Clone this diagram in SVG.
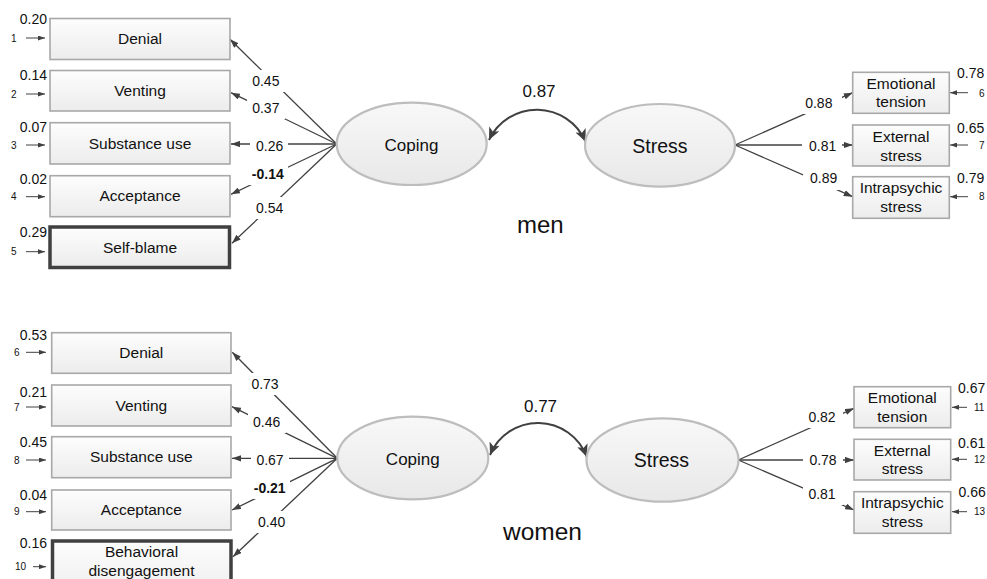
<svg xmlns="http://www.w3.org/2000/svg" width="987" height="579" viewBox="0 0 987 579">
<defs>
<linearGradient id="gb" x1="0" y1="0" x2="0" y2="1"><stop offset="0" stop-color="#fdfdfd"/><stop offset="1" stop-color="#ececec"/></linearGradient>
<linearGradient id="ge" x1="0" y1="0" x2="0" y2="1"><stop offset="0" stop-color="#f8f8f8"/><stop offset="1" stop-color="#e8e8e8"/></linearGradient>
<marker id="ah" viewBox="0 0 10 7" refX="10" refY="3.5" markerWidth="9" markerHeight="6.5" markerUnits="userSpaceOnUse" orient="auto"><path d="M0,0 L10,3.5 L0,7 z" fill="#404040"/></marker>
<marker id="as" viewBox="0 0 10 7" refX="10" refY="3.5" markerWidth="7" markerHeight="5" markerUnits="userSpaceOnUse" orient="auto"><path d="M0,0 L10,3.5 L0,7 z" fill="#404040"/></marker>
<marker id="ac" viewBox="0 0 10 9" refX="10" refY="4.5" markerWidth="13" markerHeight="11" markerUnits="userSpaceOnUse" orient="auto-start-reverse"><path d="M0,0 L10,4.5 L0,9 L2.5,4.5 z" fill="#404040"/></marker>
</defs>
<style>
text{font-family:"Liberation Sans",Arial,sans-serif;fill:#111}
.box{fill:url(#gb);stroke:#a8a8a8;stroke-width:1.6}
.bold{fill:url(#gb);stroke:#404040;stroke-width:3.5}
.ell{fill:url(#ge);stroke:#bdbdbd;stroke-width:2.2}
.bt{font-size:15.5px;text-anchor:middle}
.rt{font-size:15.5px;text-anchor:middle}
.lv{font-size:14px;text-anchor:middle}
.va{font-size:14px;text-anchor:end}
.vr{font-size:14px;text-anchor:start}
.en{font-size:10px}
.ln{stroke:#404040;stroke-width:1.3;fill:none;marker-end:url(#ah)}
.er{stroke:#404040;stroke-width:1;fill:none;marker-end:url(#as)}
.cv{stroke:#404040;stroke-width:2;fill:none;marker-start:url(#ac);marker-end:url(#ac)}
.lb{fill:#fff}
</style>

<g id="connectors">
<line class="ln" x1="336.7" y1="144" x2="230" y2="39.3"/>
<line class="ln" x1="336.7" y1="144" x2="231" y2="92.7"/>
<line class="ln" x1="336.7" y1="144" x2="231" y2="144"/>
<line class="ln" x1="336.7" y1="144" x2="231" y2="194.3"/>
<line class="ln" x1="336.7" y1="144" x2="232" y2="243.3"/>
<line class="ln" x1="735" y1="145" x2="852.7" y2="92.7"/>
<line class="ln" x1="735" y1="145" x2="852.7" y2="145"/>
<line class="ln" x1="735" y1="145" x2="852.7" y2="196.7"/>
<path class="cv" d="M489,140 A53,53 0 0 1 585.5,141.5"/>
<line class="ln" x1="337.3" y1="458.3" x2="232.3" y2="352.3"/>
<line class="ln" x1="337.3" y1="458.3" x2="232" y2="406.7"/>
<line class="ln" x1="337.3" y1="458.3" x2="232" y2="458.3"/>
<line class="ln" x1="337.3" y1="458.3" x2="232" y2="510"/>
<line class="ln" x1="337.3" y1="458.3" x2="233" y2="556.7"/>
<line class="ln" x1="738.3" y1="460" x2="854" y2="408.3"/>
<line class="ln" x1="738.3" y1="460" x2="854" y2="460"/>
<line class="ln" x1="738.3" y1="460" x2="854" y2="510"/>
<path class="cv" d="M490,455 A52,52 0 0 1 586.7,456.7"/>
<line class="er" x1="26" y1="38" x2="45" y2="38"/>
<line class="er" x1="26" y1="94" x2="45" y2="94"/>
<line class="er" x1="26" y1="145" x2="45" y2="145"/>
<line class="er" x1="26" y1="196.7" x2="45" y2="196.7"/>
<line class="er" x1="26" y1="251.7" x2="45" y2="251.7"/>
<line class="er" x1="968" y1="92.7" x2="950" y2="92.7"/>
<line class="er" x1="968" y1="145" x2="950" y2="145"/>
<line class="er" x1="968" y1="196.7" x2="950" y2="196.7"/>
<line class="er" x1="26" y1="352.3" x2="46" y2="352.3"/>
<line class="er" x1="26" y1="407" x2="46" y2="407"/>
<line class="er" x1="26" y1="460" x2="46" y2="460"/>
<line class="er" x1="26" y1="511.7" x2="46" y2="511.7"/>
<line class="er" x1="33" y1="566.7" x2="46" y2="566.7"/>
<line class="er" x1="967" y1="407.3" x2="952" y2="407.3"/>
<line class="er" x1="967" y1="459.3" x2="952" y2="459.3"/>
<line class="er" x1="967" y1="511.7" x2="952" y2="511.7"/>

<rect class="lb" x="247" y="70" width="38" height="22"/><text class="lv" x="265.8" y="86">0.45</text>
<rect class="lb" x="247" y="97" width="38" height="22"/><text class="lv" x="265.8" y="113">0.37</text>
<rect class="lb" x="250" y="135" width="38" height="22"/><text class="lv" x="269.7" y="150.5">0.26</text>
<rect class="lb" x="248" y="163" width="40" height="22"/><text class="lv" x="267.8" y="179" font-weight="bold">-0.14</text>
<rect class="lb" x="250" y="197" width="38" height="22"/><text class="lv" x="269.7" y="213">0.54</text>
<rect class="lb" x="802" y="92" width="40" height="22"/><text class="lv" x="818.8" y="107.5">0.88</text>
<rect class="lb" x="802" y="135" width="40" height="22"/><text class="lv" x="822.7" y="151">0.81</text>
<rect class="lb" x="803" y="168" width="40" height="22"/><text class="lv" x="823.7" y="183">0.89</text>
<rect class="lb" x="246" y="373" width="38" height="22"/><text class="lv" x="265" y="389">0.73</text>
<rect class="lb" x="248" y="411" width="38" height="22"/><text class="lv" x="266.7" y="427">0.46</text>
<rect class="lb" x="251" y="449" width="38" height="22"/><text class="lv" x="270" y="465">0.67</text>
<rect class="lb" x="250" y="477" width="40" height="22"/><text class="lv" x="269.7" y="493" font-weight="bold">-0.21</text>
<rect class="lb" x="253" y="511" width="38" height="22"/><text class="lv" x="271.7" y="526.5">0.40</text>
<rect class="lb" x="803" y="406" width="40" height="22"/><text class="lv" x="822" y="421.5">0.82</text>
<rect class="lb" x="803" y="449" width="40" height="22"/><text class="lv" x="823" y="465">0.78</text>
<rect class="lb" x="803" y="483" width="40" height="22"/><text class="lv" x="822" y="499">0.81</text>
<text x="539" y="96.7" font-size="17px" text-anchor="middle">0.87</text>
<text x="540.5" y="411.7" font-size="17px" text-anchor="middle">0.77</text>
</g>

<g id="m_denial"><rect class="box" x="50" y="18.5" width="180" height="41"/><text class="bt" x="140" y="44">Denial</text><text class="va" x="47" y="24">0.20</text><text class="en" x="11" y="41.5">1</text></g>
<g id="m_venting"><rect class="box" x="50" y="70.5" width="180" height="40.5"/><text class="bt" x="140" y="96">Venting</text><text class="va" x="47" y="80">0.14</text><text class="en" x="11" y="97.5">2</text></g>
<g id="m_substance"><rect class="box" x="50" y="122.7" width="180" height="41.3"/><text class="bt" x="140" y="148.5">Substance use</text><text class="va" x="47" y="132">0.07</text><text class="en" x="11" y="148.5">3</text></g>
<g id="m_acceptance"><rect class="box" x="50" y="175.7" width="180" height="41"/><text class="bt" x="140" y="201">Acceptance</text><text class="va" x="47" y="184">0.02</text><text class="en" x="11" y="200.2">4</text></g>
<g id="m_selfblame"><rect class="bold" x="50" y="227" width="179.5" height="40.5"/><text class="bt" x="140" y="252.5">Self-blame</text><text class="va" x="47" y="237">0.29</text><text class="en" x="11" y="255.2">5</text></g>

<g id="m_coping"><ellipse class="ell" cx="411.7" cy="143.8" rx="75" ry="41.2"/><text x="411.5" y="151" font-size="17px" text-anchor="middle">Coping</text></g>
<g id="m_stress"><ellipse class="ell" cx="660" cy="145.3" rx="75" ry="41.3"/><text x="660" y="152.7" font-size="19.5px" text-anchor="middle">Stress</text></g>

<g id="m_emotional"><rect class="box" x="852.7" y="72.3" width="96.6" height="41"/><text class="rt" x="901" y="89">Emotional</text><text class="rt" x="901" y="107.3">tension</text><text class="vr" x="957" y="78.3">0.78</text><text class="en" x="979" y="96.8">6</text></g>
<g id="m_external"><rect class="box" x="852.7" y="125" width="96.6" height="41"/><text class="rt" x="901" y="141.7">External</text><text class="rt" x="901" y="160.5">stress</text><text class="vr" x="957" y="133">0.65</text><text class="en" x="979" y="148.5">7</text></g>
<g id="m_intrapsychic"><rect class="box" x="852.7" y="176.7" width="96.6" height="41.6"/><text class="rt" x="901" y="193.4">Intrapsychic</text><text class="rt" x="901" y="211.7">stress</text><text class="vr" x="957" y="183.3">0.79</text><text class="en" x="979" y="200.2">8</text></g>

<text id="m_label" x="540.3" y="232.7" font-size="24px" text-anchor="middle">men</text>

<g id="w_denial"><rect class="box" x="51.7" y="332.7" width="179.3" height="40.6"/><text class="bt" x="141.3" y="358">Denial</text><text class="va" x="47" y="340">0.53</text><text class="en" x="14" y="355.8">6</text></g>
<g id="w_venting"><rect class="box" x="51.7" y="385" width="179.3" height="41"/><text class="bt" x="141.3" y="410.5">Venting</text><text class="va" x="47" y="397">0.21</text><text class="en" x="14" y="410.5">7</text></g>
<g id="w_substance"><rect class="box" x="51.7" y="436.7" width="179.3" height="41"/><text class="bt" x="141.3" y="462">Substance use</text><text class="va" x="47" y="447">0.45</text><text class="en" x="14" y="463.5">8</text></g>
<g id="w_acceptance"><rect class="box" x="51.7" y="490" width="179.3" height="40"/><text class="bt" x="141.3" y="515">Acceptance</text><text class="va" x="47" y="500">0.04</text><text class="en" x="14" y="515.2">9</text></g>
<g id="w_behavioral"><rect class="bold" x="52.5" y="541" width="178.5" height="60"/><text class="bt" x="141.5" y="557">Behavioral</text><text class="bt" x="141.5" y="576">disengagement</text><text class="va" x="47" y="548">0.16</text><text class="en" x="15" y="570.2">10</text></g>

<g id="w_coping"><ellipse class="ell" cx="412.8" cy="458" rx="75.5" ry="41.3"/><text x="412.8" y="465" font-size="17px" text-anchor="middle">Coping</text></g>
<g id="w_stress"><ellipse class="ell" cx="662.5" cy="460" rx="76" ry="41.7"/><text x="661.5" y="467" font-size="19.5px" text-anchor="middle">Stress</text></g>

<g id="w_emotional"><rect class="box" x="854" y="386.7" width="96.7" height="41"/><text class="rt" x="902.3" y="403.4">Emotional</text><text class="rt" x="902.3" y="421.7">tension</text><text class="vr" x="958" y="393.3">0.67</text><text class="en" x="974" y="410.8">11</text></g>
<g id="w_external"><rect class="box" x="854" y="439.3" width="96.7" height="40.7"/><text class="rt" x="902.3" y="456">External</text><text class="rt" x="902.3" y="474.3">stress</text><text class="vr" x="958" y="448">0.61</text><text class="en" x="974" y="462.8">12</text></g>
<g id="w_intrapsychic"><rect class="box" x="854" y="491.7" width="96.7" height="41.6"/><text class="rt" x="902.3" y="508.4">Intrapsychic</text><text class="rt" x="902.3" y="526.7">stress</text><text class="vr" x="958.5" y="497">0.66</text><text class="en" x="974" y="515.2">13</text></g>

<text id="w_label" x="542.5" y="540" font-size="24.5px" text-anchor="middle">women</text>
</svg>
